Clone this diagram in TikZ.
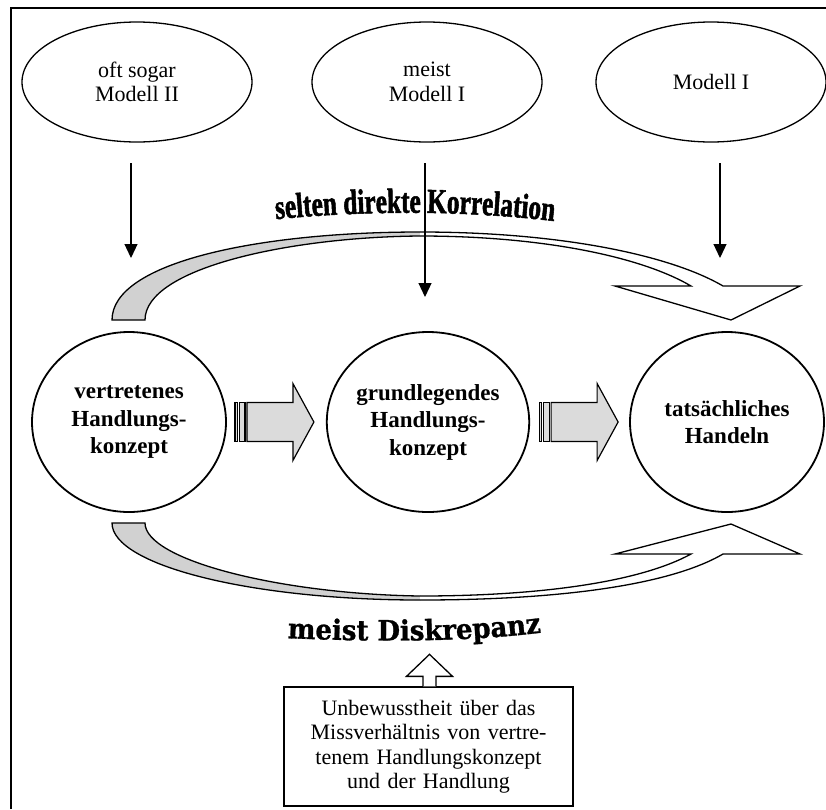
\documentclass[tikz,border=0pt]{standalone}
\usepackage{fontspec}
\setmainfont{Liberation Serif}
\newfontfamily\corrfont{Liberation Serif Bold}[FakeStretch=0.72, FakeBold=1.5]
\newfontfamily\discfont{DejaVu Serif Bold}[FakeStretch=0.93, FakeBold=1]
\usetikzlibrary{arrows.meta}
\usetikzlibrary{calc,positioning,shapes.geometric,decorations.text}

\definecolor{bandgrey}{gray}{0.82}
\definecolor{blockgrey}{gray}{0.86}

\tikzset{
  modell/.style={ellipse, draw, line width=1.3pt, minimum width=230pt, minimum height=120pt,
    inner sep=0pt, align=center, font=\fontsize{22}{24.5}\selectfont},
  konzept/.style={ellipse, draw, line width=1.8pt, minimum width=194pt, minimum height=180pt,
    inner sep=0pt, align=center, font=\fontsize{23}{27.5}\selectfont\bfseries},
  pfeil/.style={-{Triangle[length=14pt,width=13pt]}, line width=1.2pt},
  band/.style={draw, line width=1.3pt, line join=miter},
  blockarrow/.style={draw, fill=blockgrey, line width=1.2pt},
  striped/.pic={
    \filldraw[blockarrow] (0,-19.5) rectangle (2.5,19.5);
    \filldraw[blockarrow] (4.5,-19.5) rectangle (10,19.5);
    \filldraw[blockarrow] (12,-19.5) -- (58,-19.5) -- (58,-38.5) -- (79,0)
      -- (58,38.5) -- (58,19.5) -- (12,19.5) -- cycle;
  }
}

\begin{document}
\begin{tikzpicture}[x=1pt, y=-1pt, >=Stealth]
  \useasboundingbox (0,0) rectangle (826,809);
  % frame (only top and left edge visible)
  \draw[line width=1.8pt] (11,809) -- (11,8) -- (826,8);

  % top row
  \node[modell] (m2) at (137,82) {oft sogar\\Modell II};
  \node[modell, right of=m2, node distance=290pt] (m1) {meist\\Modell I};
  \node[modell, right of=m1, node distance=284pt] (m1r) {Modell I};

  % middle row
  \node[konzept] (vk) at (129,422) {vertretenes\\Handlungs-\\konzept};
  \node[konzept, right of=vk, node distance=299pt] (gk) {grundlegendes\\Handlungs-\\konzept};
  \node[konzept, right of=gk, node distance=299pt] (th) {tatsächliches\\Handeln};

  \pic at ([xshift=8pt]vk.east) {striped};
  \pic at ([xshift=9pt]gk.east) {striped};

  % upper curved arrow
  \filldraw[band, fill=bandgrey] (420,236) .. controls (290,237) and (145,268) .. (145,320)
    -- (112,320) .. controls (112,262) and (260,232) .. (420,232);
  \filldraw[band, fill=white] (420,232) .. controls (560,232) and (670,255) .. (723,286)
    -- (800,286) -- (731,320) -- (615,286) -- (691,286)
    .. controls (640,256) and (540,236) .. (420,236);
  \path[decorate, decoration={text along path, text align=center,
      text={|\fontsize{35}{36}\corrfont|selten direkte Korrelation}}]
    (268,220) .. controls (365,210) and (465,210) .. (562,222);

  % lower curved arrow
  \filldraw[band, fill=bandgrey] (420,596) .. controls (280,594) and (145,560) .. (145,523)
    -- (112,523) .. controls (112,565) and (250,600) .. (420,600);
  \filldraw[band, fill=white] (420,600) .. controls (560,600) and (670,585) .. (723,554)
    -- (800,554) -- (731,524) -- (615,554) -- (691,554)
    .. controls (640,582) and (540,596) .. (420,596);
  \path[decorate, decoration={text along path, text align=center,
      text={|\fontsize{28}{30}\discfont|meist Diskrepanz}}]
    (283,638) .. controls (380,642) and (470,642) .. (546,632);

  % thin arrows
  \coordinate (a1) at (131,163);
  \coordinate (b1) at (131,258);
  \coordinate (a2) at (425,163);
  \coordinate (b2) at (425,297);
  \coordinate (a3) at (720,163);
  \coordinate (b3) at (720,258);
  \draw[pfeil] (a1) -- (b1);
  \draw[pfeil] (a2) -- (b2);
  \draw[pfeil] (a3) -- (b3);

  % box
  \node[draw, line width=1.3pt, minimum width=289pt, minimum height=119pt, text width=280pt,
    align=center, font=\fontsize{22}{24.5}\selectfont] (ub) at (428.5,746.5)
    {Unbewusstheit über das\\Missverhältnis von vertre-\\tenem Handlungskonzept\\und der Handlung};
  \draw[band, fill=white] ([xshift=1pt]ub.north) ++(-6.5,0) -- ++(0,-10) -- ++(-16.5,0)
    -- ++(23,-22) -- ++(23,22) -- ++(-16.5,0) -- ++(0,10);
\end{tikzpicture}
\end{document}
